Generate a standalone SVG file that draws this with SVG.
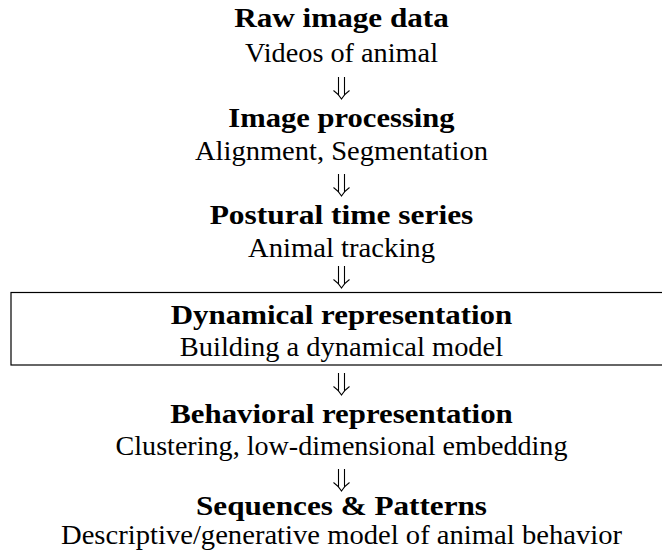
<svg xmlns="http://www.w3.org/2000/svg" width="662" height="550" viewBox="0 0 662 550">
<style>
text{font-size:27px;fill:#000;text-anchor:middle}
.t{font-weight:bold}
.arr{fill:none;stroke:#000;stroke-width:1.1;stroke-linejoin:miter}
.box{fill:none;stroke:#000;stroke-width:1.2}
</style>
<defs>
<path id="dn" class="arr" d="M-3,-17 V1.5 M3,-17 V1.5 M-8,-3.5 Q-3,0 0,5 Q3,0 8,-3.5"/>
</defs>
<g font-family="'Liberation Serif', Tinos, 'Times New Roman', 'Noto Serif', 'DejaVu Serif', serif">
<g id="n1">
<text class="t" x="341.5" y="27" textLength="214.6" lengthAdjust="spacingAndGlyphs">Raw image data</text>
<text x="341.5" y="61.5" textLength="193" lengthAdjust="spacingAndGlyphs">Videos of animal</text>
</g>
<g id="n2">
<text class="t" x="341.5" y="127" textLength="226.3" lengthAdjust="spacingAndGlyphs">Image processing</text>
<text x="341.5" y="159.5" textLength="293" lengthAdjust="spacingAndGlyphs">Alignment, Segmentation</text>
</g>
<g id="n3">
<text class="t" x="341.5" y="224" textLength="263.7" lengthAdjust="spacingAndGlyphs">Postural time series</text>
<text x="341.5" y="257" textLength="187.1" lengthAdjust="spacingAndGlyphs">Animal tracking</text>
</g>
<g id="n4">
<rect class="box" x="11" y="292.5" width="700" height="72.5"/>
<text class="t" x="341.5" y="324" textLength="341.5" lengthAdjust="spacingAndGlyphs">Dynamical representation</text>
<text x="341.5" y="356" textLength="323.3" lengthAdjust="spacingAndGlyphs">Building a dynamical model</text>
</g>
<g id="n5">
<text class="t" x="341.5" y="423" textLength="342.6" lengthAdjust="spacingAndGlyphs">Behavioral representation</text>
<text x="341.5" y="455" textLength="451.9" lengthAdjust="spacingAndGlyphs">Clustering, low-dimensional embedding</text>
</g>
<g id="n6">
<text class="t" x="341.5" y="515" textLength="291" lengthAdjust="spacingAndGlyphs">Sequences &amp; Patterns</text>
<text x="341.5" y="544" textLength="561" lengthAdjust="spacingAndGlyphs">Descriptive/generative model of animal behavior</text>
</g>
</g>
<g id="connectors">
<use href="#dn" x="341.5" y="94"/>
<use href="#dn" x="341.5" y="191"/>
<use href="#dn" x="341.5" y="283"/>
<use href="#dn" x="341.5" y="390"/>
<use href="#dn" x="341.5" y="486"/>
</g>
</svg>
